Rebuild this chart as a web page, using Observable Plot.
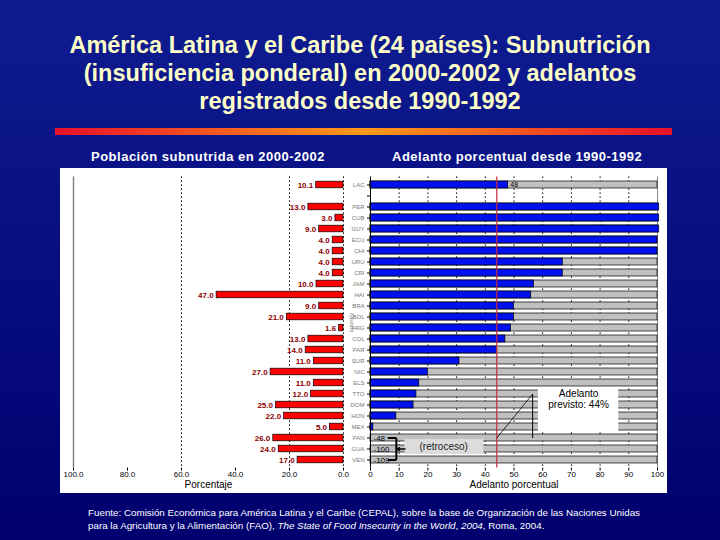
<!DOCTYPE html>
<html><head><meta charset="utf-8">
<script src="https://cdn.jsdelivr.net/npm/d3@7"></script>
<script src="https://cdn.jsdelivr.net/npm/@observablehq/plot@0.6"></script>
<style>
body{margin:0;}
#page{position:relative;width:720px;height:540px;overflow:hidden;background:linear-gradient(#0e1c90,#00006e);font-family:"Liberation Sans",Arial,sans-serif;}
#title{position:absolute;left:0;top:31px;width:720px;text-align:center;color:#ffffc8;font-weight:bold;font-size:23.5px;line-height:28px;}
#rule{position:absolute;left:55px;top:128px;width:617px;height:7px;background:linear-gradient(90deg,#e8102a,#ff9a1a 50%,#e8102a);}
.sub{position:absolute;top:149px;color:#fff;font-weight:bold;font-size:13px;letter-spacing:0.5px;white-space:nowrap;}
#panel{position:absolute;left:60px;top:168px;width:607px;height:325px;background:#fff;}
#left{position:absolute;left:60px;top:168px;}
#right{position:absolute;left:345px;top:168px;}
#foot{position:absolute;left:88px;top:507px;color:#fff;font-size:9.8px;line-height:12.5px;white-space:nowrap;}
</style>
</head><body>
<div id="page">
  <div id="title">América Latina y el Caribe (24 países): Subnutrición<br>(insuficiencia ponderal) en 2000-2002 y adelantos<br>registrados desde 1990-1992</div>
  <div id="rule"></div>
  <div class="sub" style="left:91px;">Población subnutrida en 2000-2002</div>
  <div class="sub" style="left:392px;">Adelanto porcentual desde 1990-1992</div>
  <div id="panel"></div>
  <div id="left"></div>
  <div id="right"></div>
  <div id="foot">Fuente: Comisión Económica para América Latina y el Caribe (CEPAL), sobre la base de Organización de las Naciones Unidas<br>para la Agricultura y la Alimentación (FAO), <i>The State of Food Insecurity in the World</i>, <i>2004</i>, Roma, 2004.</div>
</div>
<script>
// ---- data ----
const countries = ["LAC","PER","CUB","GUY","ECU","CHI","URU","CRI","JAM","HAI","BRA","BOL","ARG","COL","PAR","SUR","NIC","ELS","TTO","DOM","HON","MEX","PAN","GUA","VEN"];
const undernourished = [10.1,13.0,3.0,9.0,4.0,4.0,4.0,4.0,10.0,47.0,9.0,21.0,1.6,13.0,14.0,11.0,27.0,11.0,12.0,25.0,22.0,5.0,26.0,24.0,17.0];
const progress = [48,100.6,100.6,100.6,100,100,67,67,57,56,50,50,49,47,44,31,20,17,16,15,9,1,-48,-100,-109];
const leftTicks = [100,80,60,40,20,0];
const leftGrid = [60,20,0];
const rightTicks = [0,10,20,30,40,50,60,70,80,90,100];
const targetProgress = 44;
const annotationLines = ["Adelanto", "previsto: 44%"];
const retrocesoText = "(retroceso)";

// ---- build ----
const rows = countries.map((c,i)=>({country:c, under:undernourished[i], prog:progress[i]}));
const yDomain = [countries[0], " ", ...countries.slice(1)];
const font = {fontFamily:"Liberation Sans, Arial, sans-serif", background:"transparent", overflow:"visible", color:"#000"};
const H = 325, MT = 8.4, MB = 25.4;

const left = Plot.plot({
  width: 285, height: H, marginLeft: 13, marginRight: 2, marginTop: MT, marginBottom: MB,
  style: font,
  x: {domain:[100,0]},
  y: {domain: yDomain, padding: 0, axis: null},
  marks: [
    Plot.ruleX([leftTicks[0]], {stroke:"#888", strokeWidth:1.5}),
    Plot.ruleX(leftGrid, {stroke:"#000", strokeDasharray:"1.5,2.5"}),
    Plot.barX(rows, {x1:0, x2:"under", y:"country", fill:"#ff0000", stroke:"#000", strokeWidth:0.7, insetTop:2.2, insetBottom:2.2}),
    Plot.text(rows, {x:"under", y:"country", text:d=>d.under.toFixed(1), dx:-3, textAnchor:"end", fill:"#8b0000", fontWeight:"bold", fontSize:8}),
    Plot.axisX({ticks:leftTicks, tickFormat:d=>d.toFixed(1), tickSize:3, tickPadding:0, fontSize:8, label:null}),
    Plot.text(["Porcentaje"], {frameAnchor:"bottom", dy:20, fontSize:10, fill:"#000"})
  ]
});
document.getElementById("left").appendChild(left);

const neg = rows.filter(d=>d.prog<0);
const right = Plot.plot({
  width: 322, height: H, marginLeft: 25, marginRight: 10, marginTop: MT, marginBottom: MB,
  style: font,
  x: {domain:[0,100]},
  y: {domain: yDomain, padding: 0},
  marks: [
    Plot.ruleX(rightTicks.slice(1,-1), {stroke:"#000", strokeDasharray:"1.5,2.5"}),
    Plot.ruleX([rightTicks[rightTicks.length-1]], {stroke:"#888"}),
    Plot.barX(rows, {x1:0, x2:100, y:"country", fill:"#c0c0c0", stroke:"#000", strokeWidth:0.7, insetTop:2, insetBottom:2}),
    Plot.barX(rows.filter(d=>d.prog>0), {x1:0, x2:"prog", y:"country", fill:"#0010ee", stroke:"#000", strokeWidth:0.7, insetTop:2, insetBottom:2}),
    Plot.text(rows.slice(0,1), {x:"prog", y:"country", text:d=>String(d.prog), dx:2, textAnchor:"start", fontSize:7, fill:"#000"}),
    Plot.text(neg, {x:0, y:"country", text:d=>String(d.prog), dx:3, textAnchor:"start", fontSize:8, fill:"#000"}),
    Plot.ruleX([0], {stroke:"#000"}),
    // retroceso bracket
    Plot.link([0], {x1:9, x2:9, y1:()=>"PAN", y2:()=>"VEN", stroke:"#000", strokeWidth:2}),
    Plot.link(neg.filter(d=>d.country!=="GUA"), {x1:6, x2:9, y1:"country", y2:"country", stroke:"#000", strokeWidth:2}),
    Plot.barX(neg.filter(d=>d.country==="GUA"), {x1:12, x2:39.5, y:"country", fill:"#dcdcdc", insetTop:-4, insetBottom:0}),
    Plot.arrow(neg.filter(d=>d.country==="GUA"), {x1:12, x2:9.3, y1:"country", y2:"country", stroke:"#000", strokeWidth:1.5, headLength:5}),
    Plot.text(neg.filter(d=>d.country==="GUA"), {x:25.5, y:"country", text:()=>retrocesoText, dy:-2, fontSize:10, fill:"#222"}),
    // target line
    Plot.ruleX([targetProgress], {stroke:"#c8283c", strokeWidth:1.2}),
    // annotation
    Plot.barX(rows.filter(d=>["TTO","DOM","HON","MEX"].includes(d.country)), {x1:58.5, x2:86.5, y:"country", fill:"#fff"}),
    Plot.link([0], {x1:56.5, x2:56.5, y1:()=>"TTO", y2:()=>"PAN", stroke:"#000"}),
    Plot.link([0], {x1:56.5, x2:targetProgress, y1:()=>"TTO", y2:()=>"PAN", stroke:"#000", strokeWidth:0.8}),
    Plot.text(annotationLines, {x:72.5, y:(d,i)=>["TTO","DOM"][i], text:d=>d, fontSize:10, fill:"#000"}),
    Plot.axisY({tickSize:3, fontSize:6, fill:"#777", tickPadding:3}),
    Plot.axisX({ticks:rightTicks, tickSize:3, tickPadding:0, fontSize:8, label:null}),
    Plot.text(["Adelanto porcentual"], {frameAnchor:"bottom", dy:20, fontSize:10, fill:"#000"})
  ]
});
document.getElementById("right").appendChild(right);
</script>
</body></html>
